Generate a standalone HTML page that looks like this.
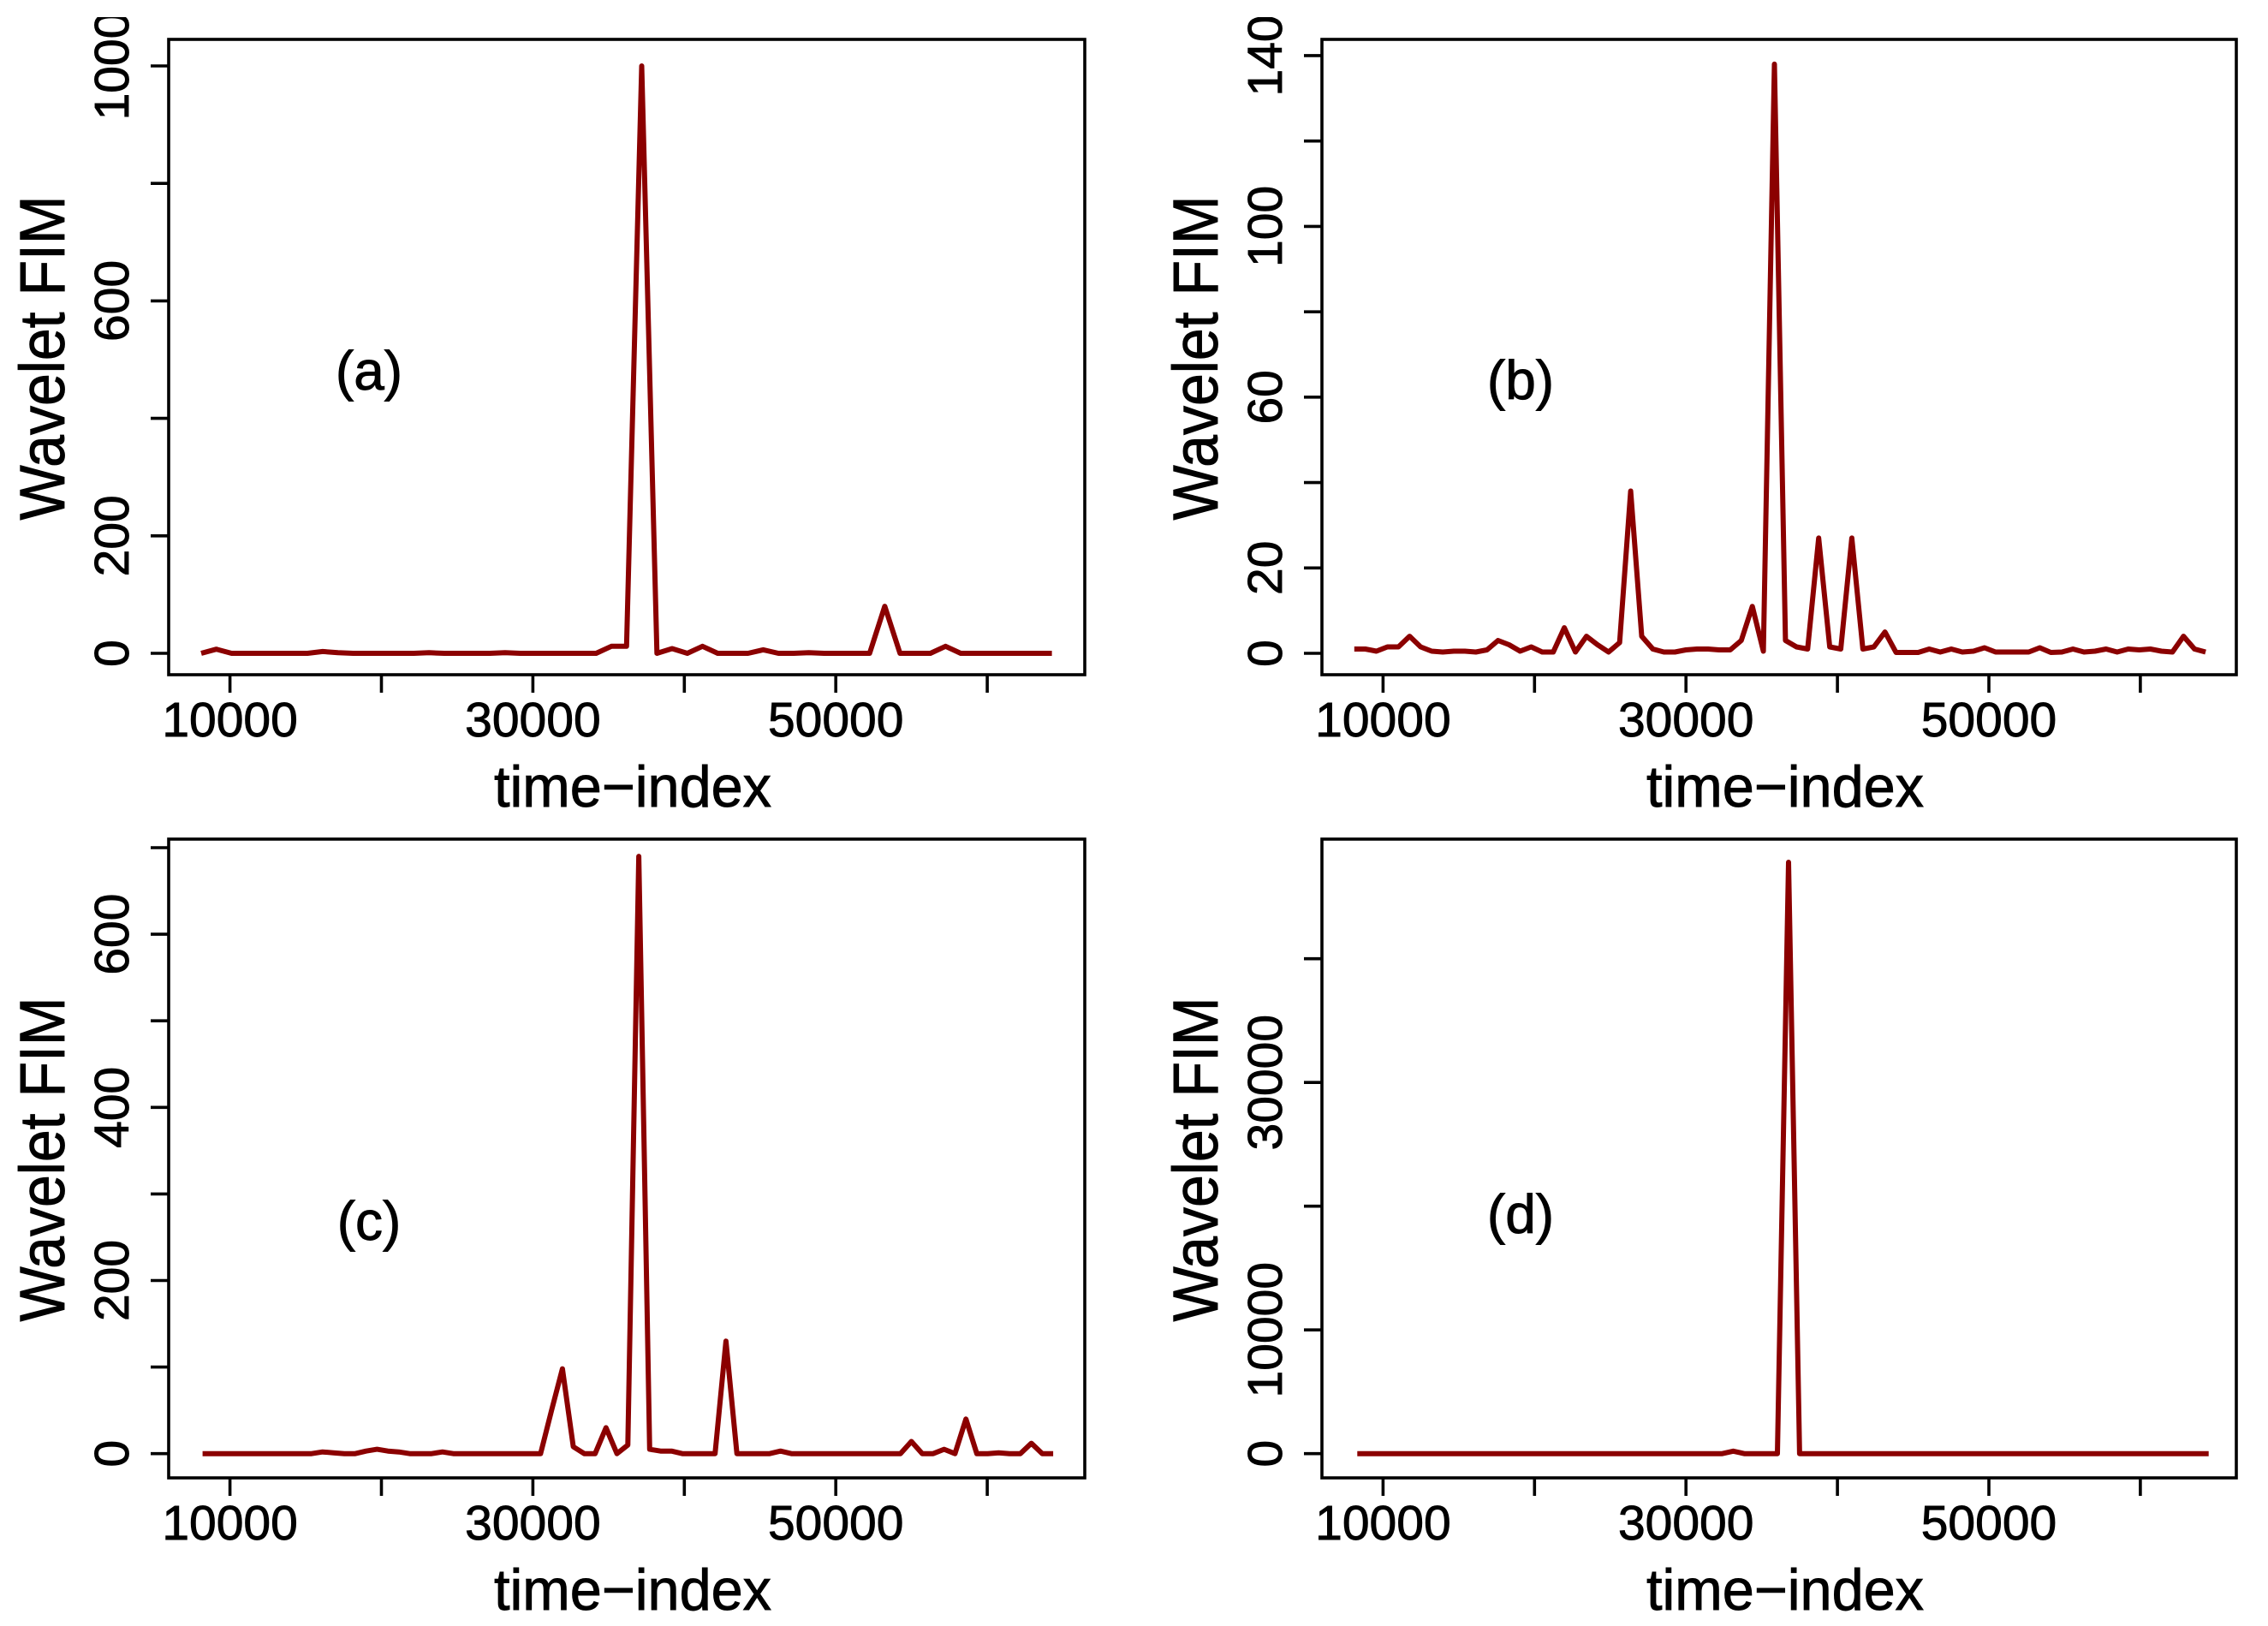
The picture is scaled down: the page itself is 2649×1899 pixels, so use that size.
<!DOCTYPE html>
<html><head><meta charset="utf-8"><style>
html,body{margin:0;padding:0;background:#fff}
svg{display:block}
text{font-family:"Liberation Sans",Arial,sans-serif;fill:#000;stroke:#000;stroke-width:0.9}
</style></head><body>
<svg id="fig" xmlns="http://www.w3.org/2000/svg" width="2649" height="1899" viewBox="0 0 2649 1899">
<rect x="0" y="0" width="2649" height="1899" fill="#fff"/>
</svg>
<script>
// ---- data ----
const aStart = 8100, aStep = 1003;
const aValues = [0,7,0,0,0,0,0,0,3,1,0,0,0,0,0,1,0,0,0,0,1,0,0,0,0,0,0,12,12,1000,0,8,0,12,0,0,0,6,0,0,1,0,0,0,0,80,0,0,0,12,0,0,0,0,0,0,0];
const bStart = 8100, bStep = 730;
const bValues = [1,1,0.5,1.5,1.5,4,1.5,0.5,0.3,0.5,0.5,0.3,0.8,3,2,0.5,1.5,0.3,0.3,6,0.3,4,2,0.3,2.5,38,4,1,0.3,0.3,0.8,1,1,0.8,0.8,3,11,0.5,138,3,1.5,1,27,1.5,1,27,1,1.5,5,0.2,0.2,0.2,1,0.3,1,0.3,0.5,1.3,0.3,0.3,0.3,0.3,1.3,0.2,0.3,1,0.3,0.5,1,0.3,1,0.8,1,0.5,0.3,4,1,0.3];
const cStart = 8190, cStep = 720;
const cValues = [0,0,0,0,0,0,0,0,0,0,0,2,1,0,0,3,5,3,2,0,0,0,2,0,0,0,0,0,0,0,0,0,50,98,8,0,0,30,0,10,690,5,3,3,0,0,0,0,130,0,0,0,0,3,0,0,0,0,0,0,0,0,0,0,0,14,0,0,5,0,40,0,0,1,0,0,12,0,0];
const dStart = 8300, dStep = 730;
const dValues = [0,0,0,0,0,0,0,0,0,0,0,0,0,0,0,0,0,0,0,0,0,0,0,0,0,0,0,0,0,0,0,0,0,0,200,0,0,0,0,47800,0,0,0,0,0,0,0,0,0,0,0,0,0,0,0,0,0,0,0,0,0,0,0,0,0,0,0,0,0,0,0,0,0,0,0,0,0,0];
const xTicks = [10000,20000,30000,40000,50000,60000];
const xTickLabels = ["10000","","30000","","50000",""];
const aYTicks = [0,200,400,600,800,1000];
const aYLabels = ["0","200","","600","","1000"];
const bYTicks = [0,20,40,60,80,100,120,140];
const bYLabels = ["0","20","","60","","100","","140"];
const cYTicks = [0,100,200,300,400,500,600,700];
const cYLabels = ["0","","200","","400","","600",""];
const dYTicks = [0,10000,20000,30000,40000];
const dYLabels = ["0","10000","","30000",""];

const NS = "http://www.w3.org/2000/svg";
const svg = document.getElementById('fig');
function mk(tag, attrs, parent){
  const e = document.createElementNS(NS, tag);
  for (const k in attrs) e.setAttribute(k, attrs[k]);
  (parent||svg).appendChild(e);
  return e;
}

function panel(p){
  const g = mk('g', {});
  
  
  const xs = v => p.x10k + (v - 10000) * p.xPer;
  const ys = v => p.y0 - v * p.yPer;
  const pts = p.values.map((v,i) => xs(p.start + i*p.step).toFixed(1) + ',' + ys(v).toFixed(1)).join(' ');
  const line = mk('polyline', {points: pts, fill:'none', stroke:'#8b0000', 'stroke-width':6, 'stroke-linejoin':'round'}, g);
  
  
  const box = mk('rect', {x:p.L, y:p.T, width:p.R-p.L, height:p.B-p.T, fill:'none', stroke:'#000', 'stroke-width':3.6}, g);
  
  
  xTicks.forEach((t,i) => {
    const x = xs(t);
    const tk = mk('line', {x1:x, x2:x, y1:p.B, y2:p.B+21, stroke:'#000', 'stroke-width':3.6}, g);
    
    
    if (xTickLabels[i]) {
      const tx = mk('text', {x:x, y:p.B+72, 'text-anchor':'middle', 'font-size':57}, g);
      tx.textContent = xTickLabels[i];
      
      
    }
  });
  p.yTicks.forEach((t,i) => {
    const y = ys(t);
    const tk = mk('line', {x1:p.L-21, x2:p.L, y1:y, y2:y, stroke:'#000', 'stroke-width':3.6}, g);
    
    
    if (p.yLabels[i]) {
      const tx = mk('text', {x:0, y:0, 'text-anchor':'middle', 'font-size':57, transform:'translate(' + (p.L-47) + ',' + y + ') rotate(-90)'}, g);
      tx.textContent = p.yLabels[i];
      
      
    }
  });
  const xt = mk('text', {x:(p.L+p.R)/2+7, y:p.B+154, 'text-anchor':'middle', 'font-size':68, textLength:324, lengthAdjust:'spacingAndGlyphs'}, g);
  xt.textContent = 'time\u2212index';
  
  
  const yt = mk('text', {x:0, y:0, 'text-anchor':'middle', 'font-size':74, textLength:379, lengthAdjust:'spacingAndGlyphs', transform:'translate(' + (p.L-122) + ',' + ((p.T+p.B)/2+1) + ') rotate(-90)'}, g);
  yt.textContent = 'Wavelet FIM';
  
  
  const lb = mk('text', {x:p.labX, y:p.labY, 'text-anchor':'middle', 'font-size':64}, g);
  lb.textContent = '(' + p.id + ')';
  
  
}

panel({id:'a', L:197, R:1267, T:46, B:788, x10k:268.6, xPer:0.01769, y0:763, yPer:0.686,
  start:aStart, step:aStep, values:aValues, yTicks:aYTicks, yLabels:aYLabels, labX:431, labY:455});
panel({id:'b', L:1544, R:2612, T:46, B:788, x10k:1615.4, xPer:0.01769, y0:763, yPer:4.986,
  start:bStart, step:bStep, values:bValues, yTicks:bYTicks, yLabels:bYLabels, labX:1776, labY:466});
panel({id:'c', L:197, R:1267, T:980, B:1726, x10k:268.6, xPer:0.01769, y0:1697.7, yPer:1.011,
  start:cStart, step:cStep, values:cValues, yTicks:cYTicks, yLabels:cYLabels, labX:431, labY:1448});
panel({id:'d', L:1544, R:2612, T:980, B:1726, x10k:1615.4, xPer:0.01769, y0:1697.7, yPer:0.01445,
  start:dStart, step:dStep, values:dValues, yTicks:dYTicks, yLabels:dYLabels, labX:1776, labY:1440});

const clip = mk('rect', {x:0, y:0, width:2649, height:20, fill:'#fff'});


</script>
</body></html>
